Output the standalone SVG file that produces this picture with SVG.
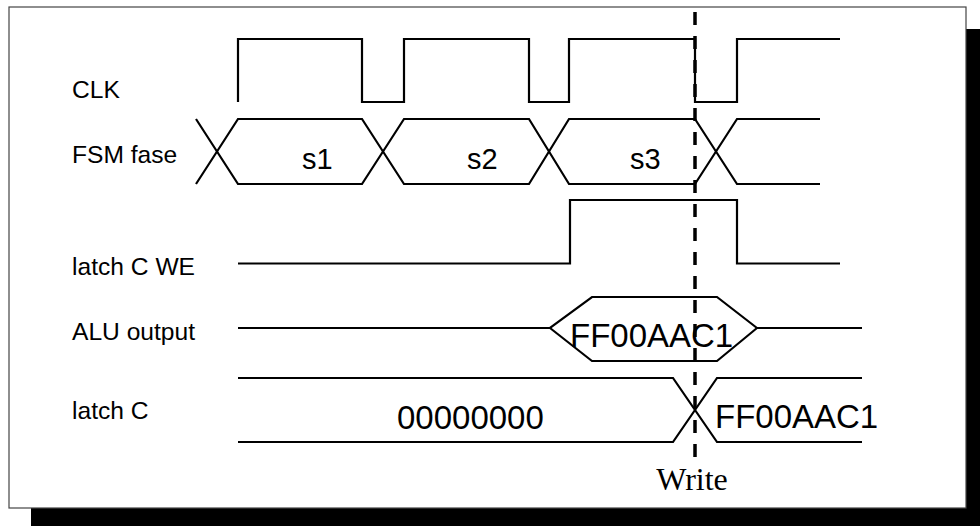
<svg xmlns="http://www.w3.org/2000/svg" width="980" height="526" viewBox="0 0 980 526">
  <style>
    .wave { fill: none; stroke: #000; stroke-width: 2.2; stroke-linejoin: miter; }
    .lbl { font-family: "Liberation Sans", Arial, sans-serif; font-size: 24.6px; fill: #000; }
    .state { font-family: "Liberation Sans", Arial, sans-serif; font-size: 29px; fill: #000; }
    .val { font-family: "Liberation Sans", Arial, sans-serif; font-size: 33px; fill: #000; }
    .marker { font-family: "Liberation Serif", "Times New Roman", serif; font-size: 32px; fill: #000; }
  </style>

  <!-- drop shadow and frame -->
  <rect x="31" y="29" width="960" height="510" fill="#000"/>
  <rect x="9" y="7" width="957" height="501" fill="#fff" stroke="#444" stroke-width="1.2"/>

  <!-- signal names -->
  <g id="labels">
    <text class="lbl" x="72" y="98">CLK</text>
    <text class="lbl" x="72" y="163">FSM fase</text>
    <text class="lbl" x="72" y="275">latch C WE</text>
    <text class="lbl" x="72" y="340">ALU output</text>
    <text class="lbl" x="72" y="419">latch C</text>
  </g>

  <!-- clock -->
  <g id="clk">
    <path class="wave" d="M238,102 V39 H362 V102 H404 V39 H529 V102 H569 V39 H695 V102 H737 V39 H840"/>
  </g>

  <!-- FSM phase bus -->
  <g id="fsm">
    <path class="wave" d="M196,119 L238,184 H362 L404,119 H529 L569,184 H695 L737,119 H820"/>
    <path class="wave" d="M196,184 L238,119 H362 L404,184 H529 L569,119 H695 L737,184 H820"/>
    <text class="state" x="302" y="169">s1</text>
    <text class="state" x="467" y="169">s2</text>
    <text class="state" x="630" y="169">s3</text>
  </g>

  <!-- write enable -->
  <g id="latch-we">
    <path class="wave" d="M238,263.5 H570 V200 H737 V263.5 H840"/>
  </g>

  <!-- ALU output bus -->
  <g id="alu">
    <path class="wave" d="M238,328 H550 L592,297 H717 L757,328 H862"/>
    <path class="wave" d="M550,328 L592,361 H717 L757,328"/>
    <text class="val" x="570" y="347">FF00AAC1</text>
  </g>

  <!-- latch C contents -->
  <g id="latch-c">
    <path class="wave" d="M238,378 H673 L717,442 H862"/>
    <path class="wave" d="M238,442 H673 L717,378 H862"/>
    <text class="val" x="397" y="429">00000000</text>
    <text class="val" x="715" y="428">FF00AAC1</text>
  </g>

  <!-- write instant -->
  <g id="connectors">
    <line x1="695" y1="12" x2="695" y2="462" stroke="#000" stroke-width="3.5" stroke-dasharray="13 11"/>
    <text class="marker" x="692" y="490" text-anchor="middle">Write</text>
  </g>
</svg>
